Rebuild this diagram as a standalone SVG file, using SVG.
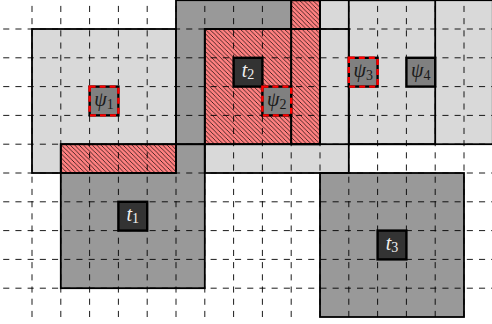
<svg xmlns="http://www.w3.org/2000/svg" width="492" height="324" viewBox="0 0 492 324">
<defs>
<style>
.treg{fill:#999999}
.preg{fill:#d9d9d9}
.hatch{fill:url(#hatch)}
.outline{fill:none;stroke:#000;stroke-width:1.8}
.grid{fill:none;stroke:#000;stroke-width:0.9;stroke-dasharray:6.1 6.1}
.tbox{fill:#333333;stroke:#000;stroke-width:2.4}
.pbox{fill:#808080;stroke:#000;stroke-width:2.4}
.pdash{fill:none;stroke:#ff0000;stroke-width:2.4;stroke-dasharray:6 4}
.tlab{font-family:"Liberation Serif","DejaVu Serif",serif;font-style:italic;font-size:20px;fill:#f0f0f0}
.plab{font-family:"Liberation Serif","DejaVu Serif",serif;font-style:italic;font-size:20px;fill:#1a1a1a}
.sub{font-style:normal;font-size:14px}
</style>
<pattern id="hatch" patternUnits="userSpaceOnUse" width="4.4" height="4.4">
<rect width="4.4" height="4.4" fill="#ff8080"/>
<path d="M-1,-1 L5.4,5.4 M-1,3.4 L1,5.4 M3.4,-1 L5.4,1" stroke="#000" stroke-width="0.7"/>
</pattern>
</defs>

<g id="region-fills">
<rect class="treg" x="60.8" y="144.2" width="144" height="144"/>
<rect class="treg" x="176" y="0.2" width="144" height="144"/>
<rect class="treg" x="320" y="173" width="144" height="144"/>
<rect class="preg" x="32" y="29" width="144" height="144"/>
<rect class="preg" x="204.8" y="29" width="144" height="144"/>
<rect class="preg" x="291.2" y="0.2" width="144" height="144"/>
<rect class="preg" x="348.8" y="0.2" width="144" height="144"/>
</g>

<g id="overlaps">
<rect class="hatch" x="60.8" y="144.2" width="115.2" height="28.8"/>
<rect class="hatch" x="204.8" y="29" width="115.2" height="115.2"/>
<rect class="hatch" x="291.2" y="0.2" width="28.8" height="144"/>
</g>

<g id="region-outlines" class="outline">
<rect x="60.8" y="144.2" width="144" height="144"/>
<rect x="176" y="0.2" width="144" height="144"/>
<rect x="320" y="173" width="144" height="144"/>
<rect x="32" y="29" width="144" height="144"/>
<rect x="204.8" y="29" width="144" height="144"/>
<rect x="291.2" y="0.2" width="144" height="144"/>
<rect x="348.8" y="0.2" width="144" height="144"/>
<rect x="60.8" y="144.2" width="115.2" height="28.8"/>
<rect x="204.8" y="29" width="115.2" height="115.2"/>
<rect x="291.2" y="0.2" width="28.8" height="144"/>
</g>

<g id="grid" class="grid">
<path d="M32 317V0M60.8 317V0M89.6 317V0M118.4 317V0M147.2 317V0M176 317V0M204.8 317V0M233.6 317V0M262.4 317V0M291.2 317V0M320 317V0M348.8 317V0M377.6 317V0M406.4 317V0M435.2 317V0M464 317V0"/>
<path d="M3.2 29H492M3.2 57.8H492M3.2 86.6H492M3.2 115.4H492M3.2 144.2H492M3.2 173H492M3.2 201.8H492M3.2 230.6H492M3.2 259.4H492M3.2 288.2H492"/>
</g>

<g id="t1">
<rect class="tbox" x="118.4" y="201.8" width="28.8" height="28.8"/>
<text class="tlab" x="132.8" y="220.8" text-anchor="middle">t<tspan class="sub" dy="2.5">1</tspan></text>
</g>
<g id="t2">
<rect class="tbox" x="233.6" y="57.8" width="28.8" height="28.8"/>
<text class="tlab" x="248" y="76.8" text-anchor="middle">t<tspan class="sub" dy="2.5">2</tspan></text>
</g>
<g id="t3">
<rect class="tbox" x="377.6" y="230.6" width="28.8" height="28.8"/>
<text class="tlab" x="392" y="249.6" text-anchor="middle">t<tspan class="sub" dy="2.5">3</tspan></text>
</g>

<g id="psi1">
<rect class="pbox" x="89.6" y="86.6" width="28.8" height="28.8"/>
<rect class="pdash" x="89.6" y="86.6" width="28.8" height="28.8"/>
<text class="plab" x="104" y="106" text-anchor="middle">ψ<tspan class="sub" dy="3">1</tspan></text>
</g>
<g id="psi2">
<rect class="pbox" x="262.4" y="86.6" width="28.8" height="28.8"/>
<rect class="pdash" x="262.4" y="86.6" width="28.8" height="28.8"/>
<text class="plab" x="276.8" y="106" text-anchor="middle">ψ<tspan class="sub" dy="3">2</tspan></text>
</g>
<g id="psi3">
<rect class="pbox" x="348.8" y="57.8" width="28.8" height="28.8"/>
<rect class="pdash" x="348.8" y="57.8" width="28.8" height="28.8"/>
<text class="plab" x="363.2" y="77.2" text-anchor="middle">ψ<tspan class="sub" dy="3">3</tspan></text>
</g>
<g id="psi4">
<rect class="pbox" x="406.4" y="57.8" width="28.8" height="28.8"/>
<text class="plab" x="420.8" y="77.2" text-anchor="middle">ψ<tspan class="sub" dy="3">4</tspan></text>
</g>
</svg>
